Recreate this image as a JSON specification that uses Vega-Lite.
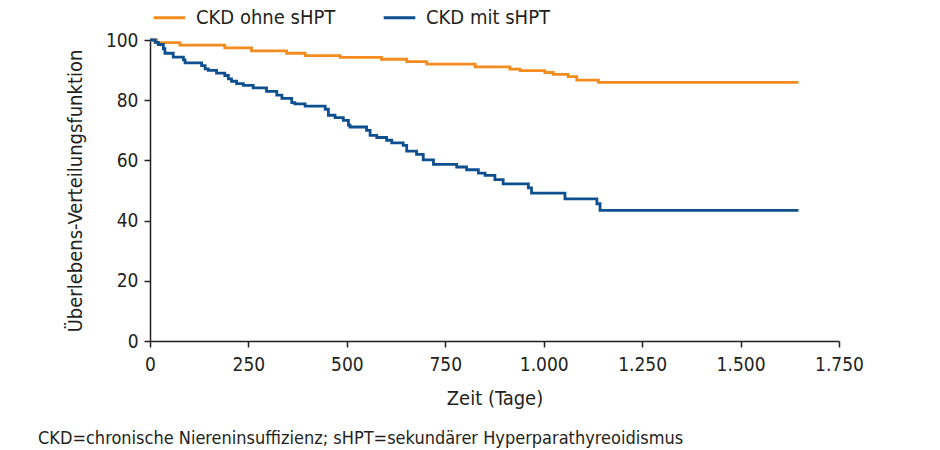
{
  "$schema": "https://vega.github.io/schema/vega-lite/v6.json",
  "width": 689,
  "height": 301,
  "autosize": {"type": "none"},
  "padding": {"left": 150, "top": 40, "right": 101, "bottom": 109},
  "background": "white",
  "config": {
    "font": "DejaVu Sans Condensed, Roboto, sans-serif",
    "view": {"stroke": null},
    "axis": {"grid": false, "domainColor": "#231f20", "tickColor": "#231f20", "labelColor": "#231f20", "titleColor": "#231f20", "labelFont": "DejaVu Sans Condensed, Roboto, sans-serif", "titleFont": "DejaVu Sans Condensed, Roboto, sans-serif", "labelFontSize": 19, "titleFontSize": 20, "titleFontWeight": "normal", "domainWidth": 1.5, "tickWidth": 1.5, "tickSize": 6}
  },
  "title": {
    "text": "CKD=chronische Niereninsuffizienz; sHPT=sekundärer Hyperparathyreoidismus",
    "orient": "bottom",
    "anchor": "start",
    "frame": "group",
    "dx": -112,
    "offset": 22,
    "font": "DejaVu Sans Condensed, Roboto, sans-serif",
    "fontSize": 18,
    "fontWeight": "normal",
    "color": "#231f20"
  },
  "data": {
    "values": [
      {"gruppe": "CKD ohne sHPT", "tag": 0, "wert": 100},
      {"gruppe": "CKD ohne sHPT", "tag": 17, "wert": 99.1},
      {"gruppe": "CKD ohne sHPT", "tag": 76, "wert": 98.3},
      {"gruppe": "CKD ohne sHPT", "tag": 190, "wert": 97.4},
      {"gruppe": "CKD ohne sHPT", "tag": 258, "wert": 96.4},
      {"gruppe": "CKD ohne sHPT", "tag": 347, "wert": 95.6},
      {"gruppe": "CKD ohne sHPT", "tag": 394, "wert": 94.8},
      {"gruppe": "CKD ohne sHPT", "tag": 483, "wert": 94.2},
      {"gruppe": "CKD ohne sHPT", "tag": 588, "wert": 93.6},
      {"gruppe": "CKD ohne sHPT", "tag": 652, "wert": 92.8},
      {"gruppe": "CKD ohne sHPT", "tag": 703, "wert": 92.0},
      {"gruppe": "CKD ohne sHPT", "tag": 826, "wert": 91.1},
      {"gruppe": "CKD ohne sHPT", "tag": 914, "wert": 90.3},
      {"gruppe": "CKD ohne sHPT", "tag": 940, "wert": 89.8},
      {"gruppe": "CKD ohne sHPT", "tag": 1003, "wert": 89.2},
      {"gruppe": "CKD ohne sHPT", "tag": 1024, "wert": 88.6},
      {"gruppe": "CKD ohne sHPT", "tag": 1062, "wert": 87.8},
      {"gruppe": "CKD ohne sHPT", "tag": 1084, "wert": 86.7},
      {"gruppe": "CKD ohne sHPT", "tag": 1139, "wert": 85.9},
      {"gruppe": "CKD ohne sHPT", "tag": 1647, "wert": 85.9},
      {"gruppe": "CKD mit sHPT", "tag": 0, "wert": 100},
      {"gruppe": "CKD mit sHPT", "tag": 13, "wert": 99.2},
      {"gruppe": "CKD mit sHPT", "tag": 21, "wert": 98.5},
      {"gruppe": "CKD mit sHPT", "tag": 34, "wert": 97.1},
      {"gruppe": "CKD mit sHPT", "tag": 38, "wert": 95.6},
      {"gruppe": "CKD mit sHPT", "tag": 59, "wert": 94.3},
      {"gruppe": "CKD mit sHPT", "tag": 85, "wert": 93.4},
      {"gruppe": "CKD mit sHPT", "tag": 89, "wert": 92.4},
      {"gruppe": "CKD mit sHPT", "tag": 131, "wert": 91.5},
      {"gruppe": "CKD mit sHPT", "tag": 140, "wert": 90.4},
      {"gruppe": "CKD mit sHPT", "tag": 148, "wert": 89.9},
      {"gruppe": "CKD mit sHPT", "tag": 169, "wert": 89.0},
      {"gruppe": "CKD mit sHPT", "tag": 190, "wert": 88.2},
      {"gruppe": "CKD mit sHPT", "tag": 199, "wert": 87.1},
      {"gruppe": "CKD mit sHPT", "tag": 207, "wert": 86.3},
      {"gruppe": "CKD mit sHPT", "tag": 220, "wert": 85.5},
      {"gruppe": "CKD mit sHPT", "tag": 237, "wert": 84.9},
      {"gruppe": "CKD mit sHPT", "tag": 262, "wert": 84.1},
      {"gruppe": "CKD mit sHPT", "tag": 296, "wert": 82.9},
      {"gruppe": "CKD mit sHPT", "tag": 322, "wert": 81.7},
      {"gruppe": "CKD mit sHPT", "tag": 335, "wert": 80.6},
      {"gruppe": "CKD mit sHPT", "tag": 360, "wert": 79.2},
      {"gruppe": "CKD mit sHPT", "tag": 368, "wert": 78.8},
      {"gruppe": "CKD mit sHPT", "tag": 394, "wert": 78.0},
      {"gruppe": "CKD mit sHPT", "tag": 445, "wert": 77.0},
      {"gruppe": "CKD mit sHPT", "tag": 453, "wert": 75.0},
      {"gruppe": "CKD mit sHPT", "tag": 470, "wert": 74.2},
      {"gruppe": "CKD mit sHPT", "tag": 491, "wert": 73.3},
      {"gruppe": "CKD mit sHPT", "tag": 504, "wert": 71.7},
      {"gruppe": "CKD mit sHPT", "tag": 508, "wert": 71.1},
      {"gruppe": "CKD mit sHPT", "tag": 550, "wert": 70.0},
      {"gruppe": "CKD mit sHPT", "tag": 559, "wert": 68.3},
      {"gruppe": "CKD mit sHPT", "tag": 576, "wert": 67.6},
      {"gruppe": "CKD mit sHPT", "tag": 601, "wert": 66.7},
      {"gruppe": "CKD mit sHPT", "tag": 614, "wert": 65.8},
      {"gruppe": "CKD mit sHPT", "tag": 643, "wert": 65.0},
      {"gruppe": "CKD mit sHPT", "tag": 652, "wert": 63.1},
      {"gruppe": "CKD mit sHPT", "tag": 677, "wert": 62.0},
      {"gruppe": "CKD mit sHPT", "tag": 694, "wert": 60.2},
      {"gruppe": "CKD mit sHPT", "tag": 720, "wert": 58.7},
      {"gruppe": "CKD mit sHPT", "tag": 779, "wert": 57.8},
      {"gruppe": "CKD mit sHPT", "tag": 804, "wert": 56.9},
      {"gruppe": "CKD mit sHPT", "tag": 834, "wert": 55.8},
      {"gruppe": "CKD mit sHPT", "tag": 851, "wert": 55.0},
      {"gruppe": "CKD mit sHPT", "tag": 876, "wert": 53.6},
      {"gruppe": "CKD mit sHPT", "tag": 897, "wert": 52.2},
      {"gruppe": "CKD mit sHPT", "tag": 961, "wert": 50.9},
      {"gruppe": "CKD mit sHPT", "tag": 969, "wert": 49.1},
      {"gruppe": "CKD mit sHPT", "tag": 1054, "wert": 47.2},
      {"gruppe": "CKD mit sHPT", "tag": 1135, "wert": 45.6},
      {"gruppe": "CKD mit sHPT", "tag": 1143, "wert": 43.4},
      {"gruppe": "CKD mit sHPT", "tag": 1647, "wert": 43.4}
    ]
  },
  "mark": {"type": "line", "interpolate": "step-after", "strokeWidth": 2.8},
  "encoding": {
    "x": {
      "field": "tag",
      "type": "quantitative",
      "scale": {"domain": [0, 1750], "nice": false},
      "axis": {"values": [0, 250, 500, 750, 1000, 1250, 1500, 1750], "labelExpr": "replace(format(datum.value, ','), ',', '.')", "title": "Zeit (Tage)", "labelPadding": 8, "titlePadding": 14, "labelFlush": false}
    },
    "y": {
      "field": "wert",
      "type": "quantitative",
      "scale": {"domain": [0, 100], "nice": false},
      "axis": {"values": [0, 20, 40, 60, 80, 100], "title": "Überlebens-Verteilungsfunktion", "labelPadding": 6, "titlePadding": 20}
    },
    "color": {
      "field": "gruppe",
      "type": "nominal",
      "sort": ["CKD ohne sHPT", "CKD mit sHPT"],
      "scale": {"domain": ["CKD ohne sHPT", "CKD mit sHPT"], "range": ["#F28C1E", "#0E4F8F"]},
      "legend": {
        "title": null,
        "orient": "none",
        "legendX": 2,
        "legendY": -40,
        "direction": "horizontal",
        "symbolType": "stroke",
        "symbolSize": 1000,
        "symbolStrokeWidth": 2.8,
        "labelFontSize": 20,
        "labelFont": "DejaVu Sans Condensed, Roboto, sans-serif",
        "labelColor": "#231f20",
        "labelOffset": 9,
        "columnPadding": 42,
        "padding": 0
      }
    }
  }
}
